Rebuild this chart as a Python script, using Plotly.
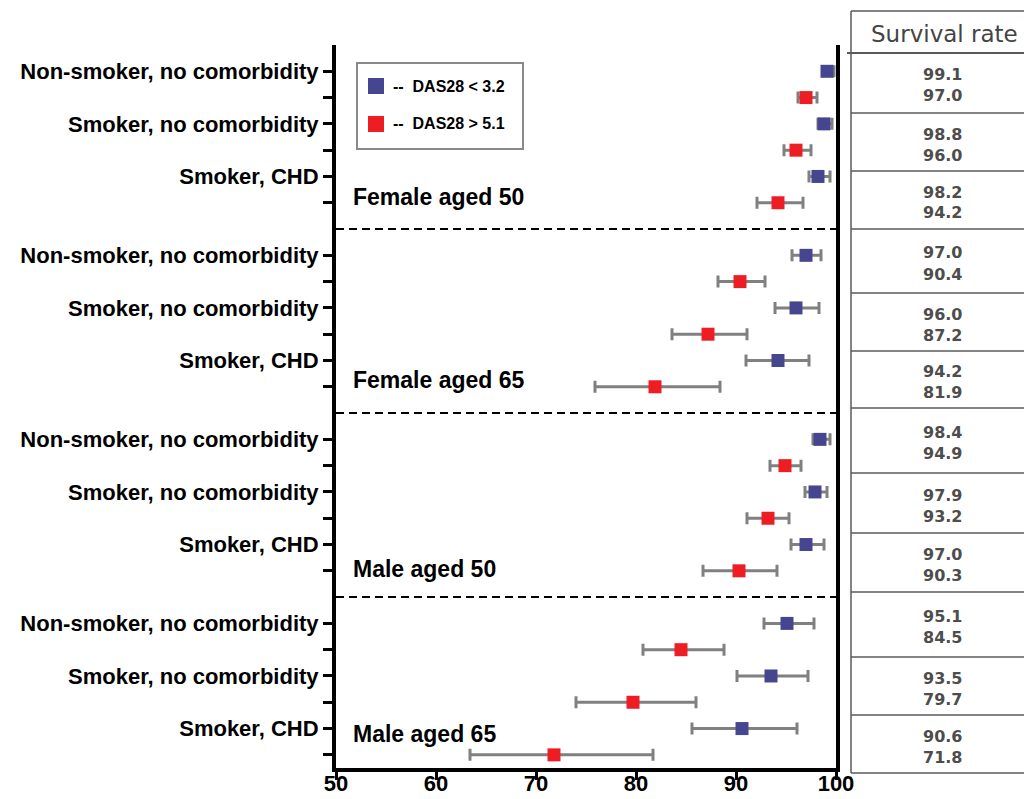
import plotly.graph_objects as go

# ---------------- data ----------------
groups = ["Female aged 50", "Female aged 65", "Male aged 50", "Male aged 65"]
profiles = ["Non-smoker, no comorbidity", "Smoker, no comorbidity", "Smoker, CHD"]

blue_rate = [99.1, 98.8, 98.2, 97.0, 96.0, 94.2, 98.4, 97.9, 97.0, 95.1, 93.5, 90.6]
blue_lo = [98.7, 98.2, 97.3, 95.6, 93.9, 91.0, 97.7, 96.9, 95.5, 92.8, 90.1, 85.6]
blue_hi = [99.8, 99.6, 99.4, 98.5, 98.3, 97.3, 99.4, 99.1, 98.8, 97.8, 97.2, 96.1]

red_rate = [97.0, 96.0, 94.2, 90.4, 87.2, 81.9, 94.9, 93.2, 90.3, 84.5, 79.7, 71.8]
red_lo = [96.2, 94.8, 92.1, 88.2, 83.6, 75.9, 93.4, 91.1, 86.7, 80.7, 74.0, 63.4]
red_hi = [98.1, 97.5, 96.7, 92.9, 91.1, 88.4, 96.5, 95.3, 94.1, 88.8, 86.0, 81.7]

legend_labels = ["--  DAS28 &lt; 3.2", "--  DAS28 &gt; 5.1"]
x_ticks = [50, 60, 70, 80, 90, 100]
table_header = "Survival rate"

# ---------------- layout helpers ----------------
W, H = 1024, 799
L, R, T, B = 336, 836, 45, 768


def px(x):
    return (x - L) / (R - L)


def py(y):
    return (B - y) / (B - T)


BLUE = "#46458F"
RED = "#EE1D24"
GREY = "#808080"
FONT = "Liberation Sans, Arial, sans-serif"
TFONT = "DejaVu Sans, Verdana, sans-serif"

n = len(blue_rate)
blue_rows = [7 * (i // 3) + 2 * (i % 3) for i in range(n)]
red_rows = [r + 1 for r in blue_rows]

fig = go.Figure()

fig.add_trace(go.Scatter(
    x=blue_rate, y=blue_rows, mode="markers",
    marker=dict(symbol="square", size=13, color=BLUE),
    error_x=dict(type="data", symmetric=False,
                 array=[h - v for h, v in zip(blue_hi, blue_rate)],
                 arrayminus=[v - l for v, l in zip(blue_rate, blue_lo)],
                 color=GREY, thickness=3, width=6),
    name="DAS28 < 3.2", showlegend=False,
))
fig.add_trace(go.Scatter(
    x=red_rate, y=red_rows, mode="markers",
    marker=dict(symbol="square", size=13, color=RED),
    error_x=dict(type="data", symmetric=False,
                 array=[h - v for h, v in zip(red_hi, red_rate)],
                 arrayminus=[v - l for v, l in zip(red_rate, red_lo)],
                 color=GREY, thickness=3, width=6),
    name="DAS28 > 5.1", showlegend=False,
))

tickvals, ticktext = [], []
for g in range(len(groups)):
    for k in range(6):
        tickvals.append(7 * g + k)
        ticktext.append(profiles[k // 2] if k % 2 == 0 else "")

shapes = []
annotations = []

# dashed separators between groups
for g in range(1, len(groups)):
    shapes.append(dict(type="line", xref="x", yref="y", x0=50, x1=100,
                       y0=7 * g - 1, y1=7 * g - 1,
                       line=dict(color="black", width=2, dash="8px,5px")))

# group labels
label_offsets = [4.78, 4.74, 4.93, 4.2]
for g, name in enumerate(groups):
    annotations.append(dict(xref="x", yref="y", x=51.5, y=7 * g + label_offsets[g],
                            text=name, showarrow=False, xanchor="left", yanchor="middle",
                            font=dict(family=FONT, size=23, color="black", weight="bold")))

# legend (drawn)
shapes.append(dict(type="rect", xref="paper", yref="paper",
                   x0=px(357), x1=px(523), y0=py(63), y1=py(149),
                   line=dict(color="#8a8a8a", width=2), fillcolor="white"))
for i, (c, yc) in enumerate([(BLUE, 86), (RED, 124)]):
    shapes.append(dict(type="rect", xref="paper", yref="paper",
                       x0=px(368), x1=px(384), y0=py(yc - 8), y1=py(yc + 8),
                       line=dict(width=0), fillcolor=c))
    annotations.append(dict(xref="paper", yref="paper", x=px(391), y=py(yc),
                            text=legend_labels[i], showarrow=False,
                            xanchor="left", yanchor="middle",
                            font=dict(family=FONT, size=16, color="black", weight="bold")))

# table on the right
TC = "#5a5a5a"
tx0, tx1 = 851, 1030
shapes.append(dict(type="line", xref="paper", yref="paper",
                   x0=px(tx0), x1=px(tx1), y0=py(11), y1=py(11),
                   line=dict(color=TC, width=1.5)))
shapes.append(dict(type="line", xref="paper", yref="paper",
                   x0=px(tx0), x1=px(tx0), y0=py(11), y1=py(773),
                   line=dict(color=TC, width=1.5)))
shapes.append(dict(type="line", xref="paper", yref="paper",
                   x0=px(847), x1=px(tx1), y0=py(53), y1=py(53),
                   line=dict(color=TC, width=2)))
annotations.append(dict(xref="paper", yref="paper", x=px(944), y=py(34),
                        text=table_header, showarrow=False,
                        xanchor="center", yanchor="middle",
                        font=dict(family=TFONT, size=23, color="#444444")))

box_lines = [53, 113, 171, 229, 293, 351, 408, 473, 533, 592, 657, 715, 773]
for i in range(n):
    top, bot = box_lines[i], box_lines[i + 1]
    shapes.append(dict(type="line", xref="paper", yref="paper",
                       x0=px(tx0), x1=px(tx1), y0=py(bot), y1=py(bot),
                       line=dict(color=TC, width=1.5)))
    yc = (top + bot) / 2 + 2
    annotations.append(dict(xref="paper", yref="paper", x=px(942), y=py(yc - 10),
                            text=f"{blue_rate[i]:.1f}", showarrow=False,
                            xanchor="center", yanchor="middle",
                            font=dict(family=TFONT, size=16, color="#4d4d4d", weight="bold")))
    annotations.append(dict(xref="paper", yref="paper", x=px(942), y=py(yc + 11),
                            text=f"{red_rate[i]:.1f}", showarrow=False,
                            xanchor="center", yanchor="middle",
                            font=dict(family=TFONT, size=16, color="#4d4d4d", weight="bold")))

fig.update_layout(
    width=W, height=H,
    margin=dict(l=L, r=W - R, t=T, b=H - B, autoexpand=False),
    plot_bgcolor="white", paper_bgcolor="white",
    shapes=shapes, annotations=annotations,
    showlegend=False,
)
fig.update_xaxes(range=[50, 100], tickvals=x_ticks, ticktext=[str(t) for t in x_ticks],
                 showgrid=False, zeroline=False,
                 showline=True, linecolor="black", linewidth=4,
                 ticks="outside", ticklen=8, tickwidth=3, tickcolor="black",
                 ticklabelstandoff=-15,
                 tickfont=dict(family=FONT, size=22, color="black", weight="bold"),
                 automargin=False)
fig.update_yaxes(range=[26.5, -1], tickvals=tickvals, ticktext=ticktext,
                 showgrid=False, zeroline=False,
                 showline=True, linecolor="black", linewidth=4, mirror=True,
                 ticks="outside", ticklen=9, tickwidth=3, tickcolor="black",
                 tickfont=dict(family=FONT, size=22, color="black", weight="bold"),
                 automargin=False)

fig.write_html("out.html", config={"displayModeBar": False},
               post_script="document.body.style.margin='0px';document.body.style.overflow='hidden';")
